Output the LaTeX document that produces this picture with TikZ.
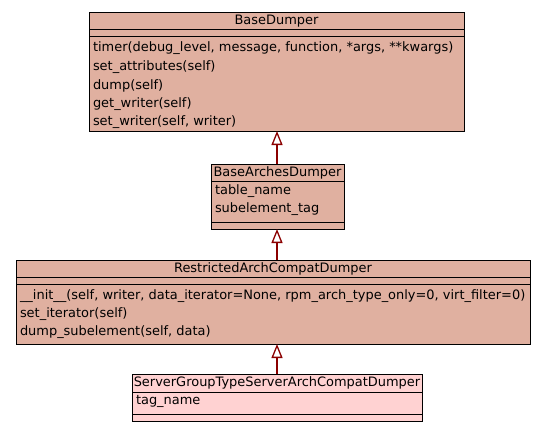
\documentclass[tikz,border=0pt]{standalone}
\usepackage{fontspec}
\setmainfont{DejaVu Sans}
\usetikzlibrary{arrows.meta}
\definecolor{classfill}{HTML}{E0B0A0}
\definecolor{leaffill}{HTML}{FFD2D2}
\definecolor{inhcolor}{HTML}{8B0000}
\begin{document}
\begin{tikzpicture}[x=1pt,y=-1pt,
  every node/.style={font=\fontsize{12.95}{15}\selectfont, inner sep=0pt, outer sep=0pt},
  classbox/.style={draw=black, line width=0.9pt, fill=classfill, rectangle, anchor=north west},
  leafbox/.style={classbox, fill=leaffill},
  member/.style={anchor=west},
  divider/.style={draw=black, line width=0.9pt},
  inherit/.style={draw=inhcolor, line width=2pt,
    -{Triangle[open, length=14pt, width=11pt, fill=white, line width=1.3pt]}}
]
\useasboundingbox (0,0) rectangle (552,432);

% BaseDumper
\node[classbox, minimum width=375pt, minimum height=119pt] (base) at (89,12) {};
\node (baseT) at (276.5,21) {BaseDumper};
\draw[divider] (89,29.5) -- (464,29.5);
\draw[divider] (89,36.5) -- (464,36.5);
\node[member] (baseM1) at (93,48.5) {timer(debug\_level, message, function, *args, **kwargs)};
\node[member] (baseM2) at (93,67) {set\_attributes(self)};
\node[member] (baseM3) at (93,85.5) {dump(self)};
\node[member] (baseM4) at (93,104) {get\_writer(self)};
\node[member] (baseM5) at (93,122.5) {set\_writer(self, writer)};

% BaseArchesDumper
\node[classbox, minimum width=133pt, minimum height=65pt] (arches) at (211,164) {};
\node (archesT) at (277.5,173) {BaseArchesDumper};
\draw[divider] (211,181) -- (344,181);
\node[member] (archesA1) at (215,191) {table\_name};
\draw[divider] (211,222) -- (344,222);
\node[member] (archesA2) at (215,209) {subelement\_tag};

% RestrictedArchCompatDumper
\node[classbox, minimum width=514pt, minimum height=84pt] (restricted) at (16,260) {};
\node (restrictedT) at (273,269) {RestrictedArchCompatDumper};
\draw[divider] (16,277) -- (530,277);
\draw[divider] (16,284) -- (530,284);
\node[member] (restrictedM1) at (20,296) {\_\_init\_\_(self, writer, data\_iterator=None, rpm\_arch\_type\_only=0, virt\_filter=0)};
\node[member] (restrictedM2) at (20,314) {set\_iterator(self)};
\node[member] (restrictedM3) at (20,332) {dump\_subelement(self, data)};

% ServerGroupTypeServerArchCompatDumper
\node[leafbox, minimum width=290pt, minimum height=47pt] (server) at (132,374) {};
\node (serverT) at (277,383) {ServerGroupTypeServerArchCompatDumper};
\draw[divider] (132,392) -- (422,392);
\node[member] (serverA1) at (136,401.5) {tag\_name};
\draw[divider] (132,414) -- (422,414);

% inheritance edges
\coordinate (edgeX) at (277,0);
\draw[inherit] (edgeX |- arches.north) -- (edgeX |- base.south);
\draw[inherit] (edgeX |- restricted.north) -- (edgeX |- arches.south);
\draw[inherit] (edgeX |- server.north) -- (edgeX |- restricted.south);
\end{tikzpicture}
\end{document}
